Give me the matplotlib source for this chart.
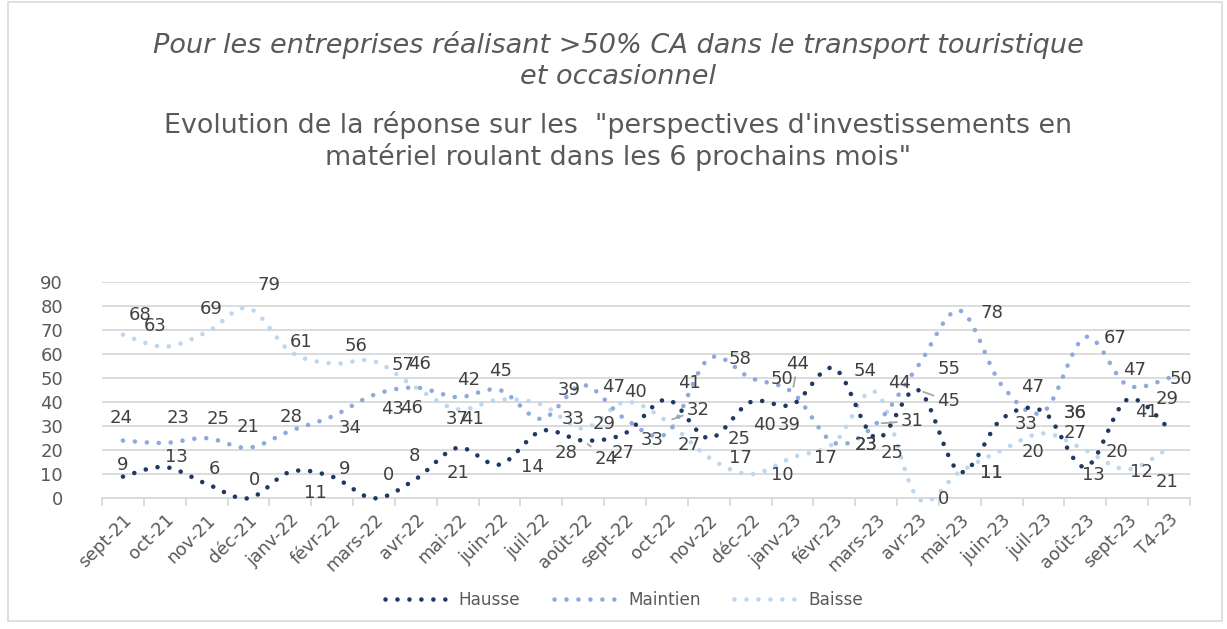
import numpy as np
import matplotlib
matplotlib.use("Agg")
import matplotlib.pyplot as plt
from matplotlib.patches import Rectangle
from matplotlib.lines import Line2D

plt.rcParams['font.family'] = ['DejaVu Sans']

categories = ["sept-21", "oct-21", "nov-21", "déc-21", "janv-22", "févr-22", "mars-22",
              "avr-22", "mai-22", "juin-22", "juil-22", "août-22", "sept-22", "oct-22",
              "nov-22", "déc-22", "janv-23", "févr-23", "mars-23", "avr-23", "mai-23",
              "juin-23", "juil-23", "août-23", "sept-23", "T4-23"]
hausse = [9, 13, 6, 0, 11, 9, 0, 8, 21, 14, 28, 24, 27, 41, 25, 40, 39, 54, 25, 45, 11, 33, 36, 13, 41, 29]
maintien = [24, 23, 25, 21, 28, 34, 43, 46, 42, 45, 33, 47, 33, 27, 58, 50, 44, 23, 31, 55, 78, 47, 36, 67, 47, 50]
baisse = [68, 63, 69, 79, 61, 56, 57, 46, 37, 41, 39, 29, 40, 32, 17, 10, 17, 23, 44, 0, 11, 20, 27, 20, 12, 21]
series_names = ["Hausse", "Maintien", "Baisse"]
yticks = [0, 10, 20, 30, 40, 50, 60, 70, 80, 90]

title1 = "Pour les entreprises réalisant >50% CA dans le transport touristique\net occasionnel"
title2 = "Evolution de la réponse sur les  \"perspectives d'investissements en\nmatériel roulant dans les 6 prochains mois\""

# styles
colors = ["#1F3864", "#8EA9DB", "#BDD7EE"]
grey_txt = "#595959"
lab_col = "#404040"
grid_col = "#D9D9D9"

# label offsets in image pixels (dx right, dy down) relative to each point
off_h = [(0, -11.6), (12, -10), (8, -15), (6.5, -18), (25, 21), (12, -8), (15, -23), (-1, -23),
         (0, 25.5), (33, 2), (24.5, 22), (23, 18), (-2, 20), (23, -17), (30.7, 1), (14.3, 23),
         (-3.5, 20.5), (30.6, 2.3), (16, 14.5), (31, 11), (31.8, 1.5), (24, 5), (31.4, 1),
         (8, 8), (19.4, 12), (-1.7, -30)]
off_m = [(-2, -23), (13.5, -24.7), (11.4, -19), (0, -20.5), (0.5, -14), (18, 12), (19, 14.5),
         (-4, 20.7), (10.6, -17), (1, -19), (32, 0.5), (30.7, 1.5), (27.4, 21), (22, 11.7),
         (31.7, 0.6), (31, 1.3), (5, -28.4), (31.6, 2), (36.3, -2.7), (31, 3.3), (31.8, 2),
         (30.7, 2), (31.4, 1), (30.3, 1.2), (7.7, -15), (11.6, 1.3)]
off_b = [(17.6, -19.7), (-9.8, -20.7), (4.2, -23), (20.7, -23.2), (10.5, -9.8), (23.6, -17.6),
         (29.3, 3.8), (4, -23.3), (-1, 10), (-27, 19.6), (27.8, -14.5), (21, -4.2), (10.7, -10.4),
         (31.3, -11.3), (31.7, 1), (31.8, 0.8), (32.5, 1), (31.6, 2), (23, -9), (25.2, 1),
         (31.8, 1.5), (31.5, 1.5), (31.4, 0), (31.2, 1.5), (14.4, 2.3), (-2.5, 34)]
leaders = {0: [11, 19], 1: [16, 18], 2: [13]}


def excel_smooth(vals, n=30):
    pts = np.column_stack([np.arange(len(vals)), np.asarray(vals, float)])
    out = []
    for i in range(len(pts) - 1):
        p0 = pts[i - 1] if i > 0 else pts[i]
        p1, p2 = pts[i], pts[i + 1]
        p3 = pts[i + 2] if i + 2 < len(pts) else pts[i + 1]
        c1 = p1 + (p2 - p0) / 6.0
        c2 = p2 - (p3 - p1) / 6.0
        t = np.linspace(0, 1, n)[:, None]
        seg = (1 - t) ** 3 * p1 + 3 * (1 - t) ** 2 * t * c1 + 3 * (1 - t) * t ** 2 * c2 + t ** 3 * p2
        out.append(seg if i == 0 else seg[1:])
    return np.vstack(out)


W, H = 1227, 629
fig = plt.figure(figsize=(W / 100, H / 100), dpi=100)
ax = fig.add_axes([102 / W, 1 - 498.3 / H, (1190 - 102) / W, (498.3 - 281.7) / H])

dot_ls = (0, (0.01, 2.6))
lw = 3.3
x = np.arange(len(categories))
for k, (vals, offs) in enumerate(zip([hausse, maintien, baisse], [off_h, off_m, off_b])):
    curve = excel_smooth(vals)
    ax.plot(curve[:, 0], curve[:, 1], color=colors[k], lw=lw, linestyle=dot_ls,
            dash_capstyle='round', solid_capstyle='round', clip_on=False, zorder=3 - k * 0.1)
    for i, v in enumerate(vals):
        dx, dy = offs[i]
        kw = {}
        if i in leaders.get(k, []):
            kw['arrowprops'] = dict(arrowstyle='-', color='#A6A6A6', lw=1.3, shrinkA=1, shrinkB=4)
        ax.annotate(str(v), xy=(x[i], v), xytext=(dx, -dy), textcoords='offset pixels',
                    ha='center', va='center', fontsize=13, color=lab_col, zorder=5,
                    annotation_clip=False, **kw)

ax.set_xlim(-0.5, len(categories) - 0.5)
ax.set_ylim(0, 90)
ax.set_yticks(yticks)
ax.yaxis.grid(True, color=grid_col, lw=1.3)
ax.set_axisbelow(True)
for s in ['top', 'right', 'left']:
    ax.spines[s].set_visible(False)
ax.spines['bottom'].set_color(grid_col)
ax.spines['bottom'].set_linewidth(1.3)
ax.tick_params(axis='y', length=0, pad=28, labelsize=13, labelcolor=grey_txt)
ax.set_xticks(x)
ax.set_xticklabels(categories, rotation=45, ha='right', va='top', rotation_mode='anchor',
                   fontsize=12.7, color=grey_txt)
ax.tick_params(axis='x', which='major', length=0, pad=9)
ax.set_xticks(np.arange(-0.5, len(categories), 1.0), minor=True)
ax.tick_params(axis='x', which='minor', length=6, color=grid_col, width=1.3, direction='out')

handles = [Line2D([0], [0], color=c, lw=lw, linestyle=dot_ls, dash_capstyle='round') for c in colors]
leg = fig.legend(handles, series_names, loc='center', bbox_to_anchor=(624 / W, 1 - 600 / H),
                 ncol=3, frameon=False, fontsize=12.2, handlelength=3.9, handletextpad=0.45,
                 columnspacing=2.0)
for t in leg.get_texts():
    t.set_color(grey_txt)

fig.text(618 / W, 1 - 60.5 / H, title1, ha='center', va='center', fontsize=19.5,
         style='italic', color=grey_txt, linespacing=1.25)
fig.text(618 / W, 1 - 141 / H, title2, ha='center', va='center', fontsize=19.4,
         color=grey_txt, linespacing=1.22)

fig.add_artist(Rectangle((8 / W, 1 - 621 / H), (1222 - 8) / W, (621 - 2) / H,
                         transform=fig.transFigure, fill=False, edgecolor=grid_col, lw=1.2))

fig.savefig("out.png", dpi=100)
